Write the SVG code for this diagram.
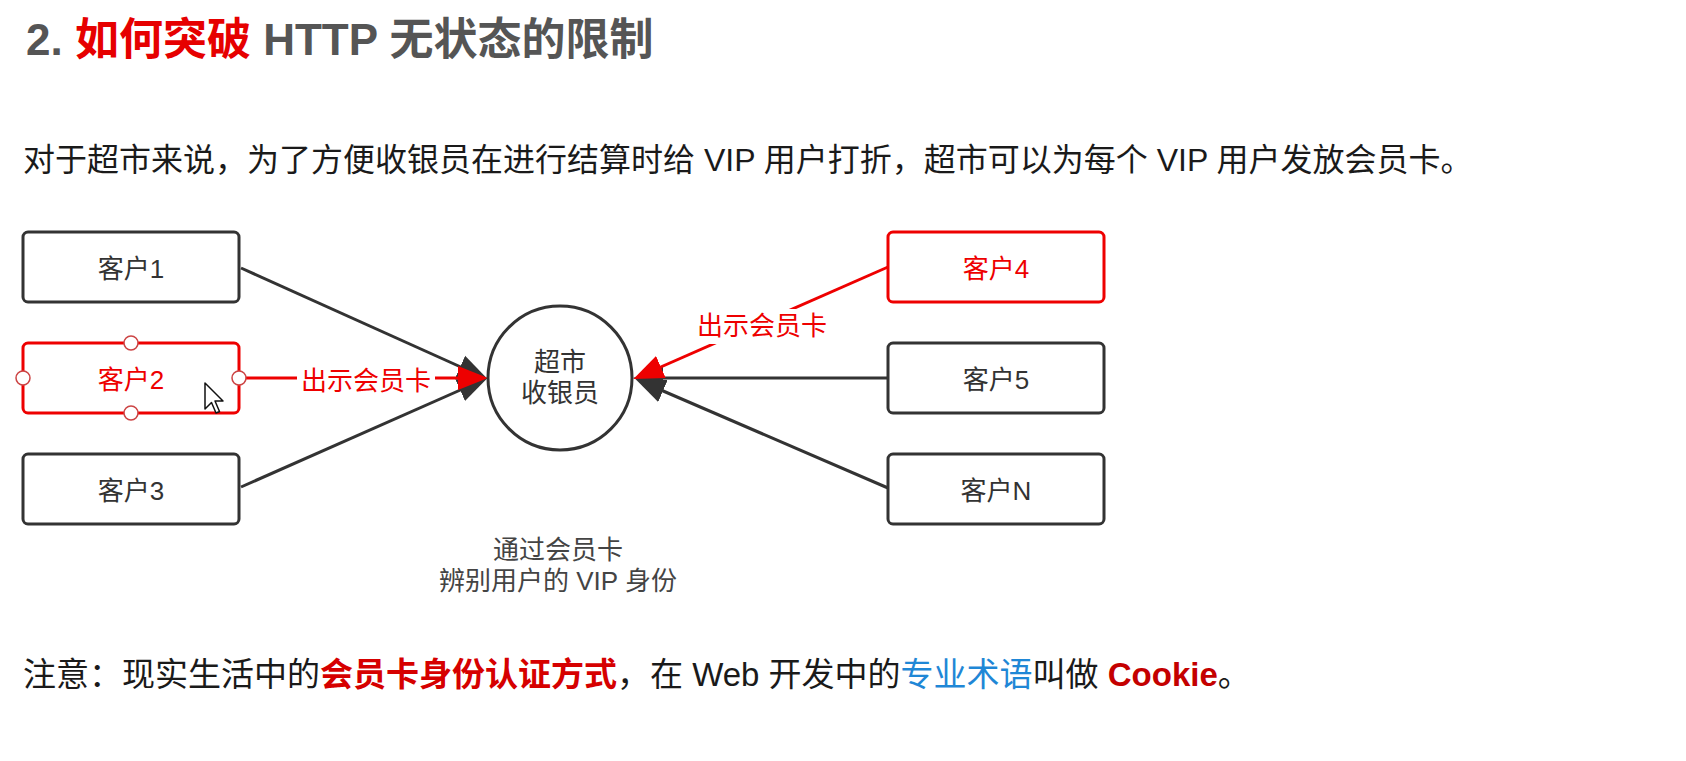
<svg xmlns="http://www.w3.org/2000/svg" width="1686" height="761" viewBox="0 0 1686 761">
<defs>
<style>
text{font-family:'Liberation Sans','Noto Sans CJK SC',sans-serif;}
.title{font-size:44px;font-weight:bold;fill:#555;}
.red{fill:#e60000;}
.para{font-size:32px;fill:#1a1a1a;}
.note{font-size:33px;fill:#1a1a1a;}
.box{fill:#fff;stroke:#333;stroke-width:3;}
.rbox{fill:#fff;stroke:#e00;stroke-width:3;}
.lbl{font-size:26px;fill:#333;text-anchor:middle;}
.rlbl{font-size:26px;fill:#e00;text-anchor:middle;}
.edge{fill:none;stroke:#333;stroke-width:3;}
.redge{fill:none;stroke:#e00;stroke-width:3;}
.cap{font-size:26px;fill:#444;text-anchor:middle;}
.handle{fill:#fff;stroke:#c44;stroke-width:1.5;}
</style>
<marker id="ad" markerUnits="userSpaceOnUse" markerWidth="30" markerHeight="26" viewBox="0 0 30 26" refX="25" refY="13" orient="auto">
<path d="M0,1 L30,13 L0,25 z" fill="#333"/>
</marker>
<marker id="ar" markerUnits="userSpaceOnUse" markerWidth="30" markerHeight="26" viewBox="0 0 30 26" refX="25" refY="13" orient="auto">
<path d="M0,1 L30,13 L0,25 z" fill="#e00"/>
</marker>
</defs>
<rect width="1686" height="761" fill="#fff"/>

<g id="title">
<text class="title" x="26" y="55">2. <tspan class="red">如何突破</tspan> HTTP 无状态的限制</text>
</g>
<g id="intro">
<text class="para" x="23" y="171">对于超市来说，为了方便收银员在进行结算时给 VIP 用户打折，超市可以为每个 VIP 用户发放会员卡。</text>
</g>

<g id="connectors">
<line class="edge" x1="241" y1="268" x2="483" y2="377" marker-end="url(#ad)"/>
<line class="edge" x1="241" y1="487" x2="483" y2="380" marker-end="url(#ad)"/>
<line class="edge" x1="888" y1="378" x2="638" y2="378" marker-end="url(#ad)"/>
<line class="edge" x1="888" y1="488" x2="640" y2="381" marker-end="url(#ad)"/>
<line class="redge" x1="240" y1="378" x2="483" y2="378" marker-end="url(#ar)"/>
<line class="redge" x1="888" y1="267" x2="638" y2="377" marker-end="url(#ar)"/>
<rect x="297" y="367" width="138" height="27" fill="#fff"/>
<text class="rlbl" x="366" y="390">出示会员卡</text>
<rect x="696" y="309" width="132" height="35" fill="#fff"/>
<text class="rlbl" x="762" y="335">出示会员卡</text>
</g>

<g id="c1">
<rect class="box" x="23" y="232" width="216" height="70" rx="5"/>
<text class="lbl" x="131" y="278">客户1</text>
</g>
<g id="c2">
<rect class="rbox" x="23" y="343" width="216" height="70" rx="5"/>
<text class="rlbl" x="131" y="389">客户2</text>
<circle class="handle" cx="131" cy="343" r="7"/>
<circle class="handle" cx="131" cy="413" r="7"/>
<circle class="handle" cx="23" cy="378" r="7"/>
<circle class="handle" cx="239" cy="378" r="7"/>
</g>
<g id="c3">
<rect class="box" x="23" y="454" width="216" height="70" rx="5"/>
<text class="lbl" x="131" y="500">客户3</text>
</g>
<g id="cashier">
<circle cx="560" cy="378" r="72" fill="#fff" stroke="#333" stroke-width="3"/>
<text class="lbl" x="560" y="371">超市</text>
<text class="lbl" x="560" y="402">收银员</text>
</g>
<g id="c4">
<rect class="rbox" x="888" y="232" width="216" height="70" rx="5"/>
<text class="rlbl" x="996" y="278">客户4</text>
</g>
<g id="c5">
<rect class="box" x="888" y="343" width="216" height="70" rx="5"/>
<text class="lbl" x="996" y="389">客户5</text>
</g>
<g id="cN">
<rect class="box" x="888" y="454" width="216" height="70" rx="5"/>
<text class="lbl" x="996" y="500">客户N</text>
</g>

<g id="caption">
<text class="cap" x="558" y="559">通过会员卡</text>
<text class="cap" x="558" y="590">辨别用户的 VIP 身份</text>
</g>

<g id="cursor">
<path d="M205,383 L205,409 L211.5,402.5 L216,413 L219.5,411.5 L215,401 L223,401 Z" fill="#fff" stroke="#111" stroke-width="1.5" stroke-linejoin="round"/>
</g>

<g id="note">
<text class="note" x="23" y="686">注意：现实生活中的<tspan font-weight="bold" fill="#d60000">会员卡身份认证方式</tspan>，在 Web 开发中的<tspan fill="#1f87d6">专业术语</tspan>叫做 <tspan font-weight="bold" fill="#c40000">Cookie</tspan>。</text>
</g>
</svg>
